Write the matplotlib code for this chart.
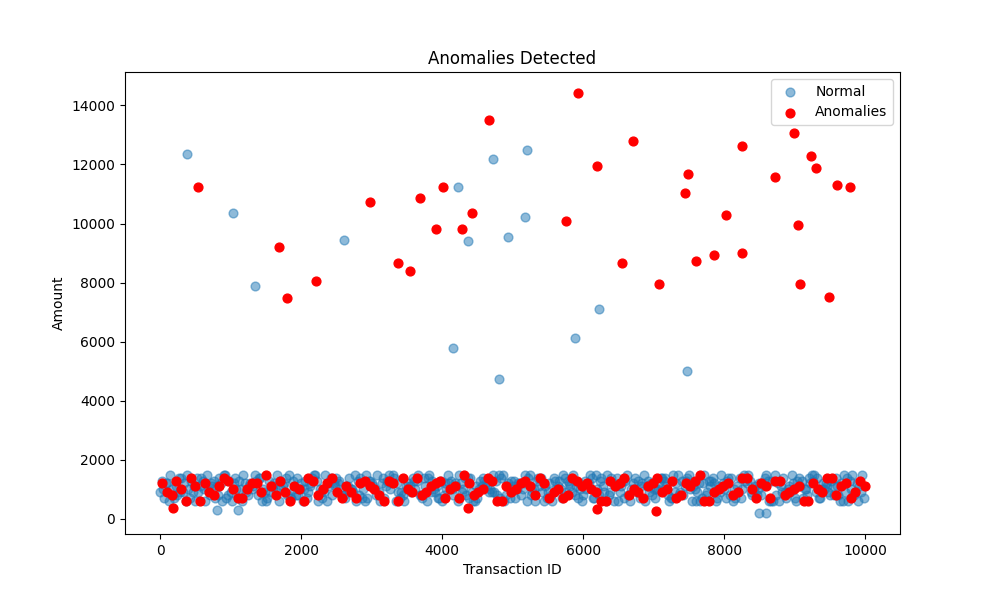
# Transaction anomalies scatter
import matplotlib
matplotlib.use("Agg")
import matplotlib.pyplot as plt
import numpy as np

# normal outliers
normal_out_id = [380, 1030, 1340, 2610, 4160, 4220, 4360, 4720, 4800, 4930, 5180, 5200, 5880, 6220, 7480, 800, 1100, 8500, 8600]
normal_out_amt = [12350, 10350, 7870, 9430, 5800, 11250, 9400, 12180, 4720, 9550, 10230, 12500, 6120, 7120, 5000, 300, 300, 200, 200]

# anomaly outliers
anom_out_id = [530, 1690, 1800, 2210, 2980, 3380, 3540, 3680, 3910, 4010, 4280, 4420, 4660, 5760, 5930, 6200, 6550, 6710,
               7080, 7450, 7490, 7600, 7850, 8020, 8250, 8260, 8720, 8990, 9050, 9080, 9230, 9310, 9490, 9600, 9780,
               180, 6200, 7030, 4360]
anom_out_amt = [11250, 9200, 7470, 8070, 10720, 8680, 8380, 10880, 9800, 11230, 9800, 10370, 13500, 10070, 14420, 11950, 8650, 12800,
                7970, 11020, 11670, 8720, 8920, 10280, 9000, 12620, 11570, 13080, 9950, 7970, 12300, 11870, 7520, 11300, 11230,
                380, 330, 270, 370]

# dense band of normal amounts (hundreds), rows of 100 transactions each
band_rows = [
    "9 12 7 14 10 6 13 8 11 15 9 7 12 10 14 6 11 13 8 10 12 9 15 7 11 14 8 10 13 6 12 9 11 15 7 10 13 8 14 9 "
    "6 12 11 10 14 7 13 9 15 8 11 12 6 10 14 9 13 7 12 11 8 15 10 9 14 6 13 12 7 11 10 14 8 9 13 15 6 12 11 7 "
    "10 14 9 13 8 12 15 6 11 10 7 13 14 9 12 8 11 15 10 6",
    "13 6 11 9 7 14 10 12 8 15 6 13 9 11 14 7 12 10 15 8 6 11 13 9 14 12 7 10 8 15 11 6 13 14 9 12 10 7 15 11 "
    "8 13 6 14 9 10 12 15 7 11 13 8 14 6 9 12 10 15 11 7 13 14 8 6 12 9 15 10 11 13 7 14 6 12 8 10 9 15 13 11 "
    "7 6 14 12 10 8 13 15 9 11 6 7 12 14 10 13 8 9 15 11",
    "10 15 8 12 13 9 6 11 14 7 12 10 8 15 6 13 9 11 7 14 10 12 6 15 8 13 11 9 14 7 10 12 15 6 8 11 13 14 9 7 "
    "12 10 15 8 6 13 11 9 14 12 7 10 15 13 6 8 11 14 9 12 10 7 13 15 6 11 8 14 12 9 10 13 7 15 11 6 12 8 14 9 "
    "13 10 7 15 11 12 6 8 14 9 13 10 15 7 12 11 6 14 8 9",
    "7 10 14 6 9 11 15 13 12 8 14 6 11 13 10 9 15 12 7 8 13 14 10 6 12 9 11 15 7 13 8 14 10 12 6 9 15 11 13 7 "
    "10 8 12 14 6 11 9 13 15 7 10 12 8 14 11 6 13 9 15 10 12 7 14 8 11 13 6 9 15 12 10 14 7 8 13 11 6 9 12 15 "
    "14 7 10 13 8 11 6 12 9 15 14 10 13 7 11 8 12 6 9 15",
    "12 8 9 15 11 14 10 7 6 13 10 15 12 8 9 11 6 14 13 10 7 15 9 12 11 8 14 6 10 13 15 7 12 9 11 14 8 6 10 13 "
    "15 12 9 7 11 14 10 8 6 13 12 15 9 11 7 14 10 13 8 6 12 15 11 9 14 7 10 13 6 8 12 11 15 9 14 10 7 13 6 12 "
    "8 11 15 9 10 14 13 6 7 12 11 8 15 10 9 14 6 13 12 7",
]
band_offsets = [0, 20, 40, 60, 80]

# anomalies inside the band (hundreds), rows of 75 transactions each
anom_band_rows = [
    "12 8 10 14 6 9 11 13 7 10 12 15 8 9 11 6 13 10 14 7 9 12 11 8 13 6 10 14 9 12 7 11 15 8 10 13 6 9 12 11 "
    "14 7 10 8 13 12 9 6 11 14 10 7 12 9 13 8 11 15 6 10 12 9 14 7 11 13 8 10 6 12 9 14 11 7 13",
    "9 13 6 11 12 8 14 10 7 12 9 11 13 6 10 14 8 12 9 11 7 13 10 6 12 14 9 8 11 13 10 7 12 9 14 6 11 10 13 8 "
    "12 9 7 14 11 10 6 13 12 8 9 11 14 10 7 12 13 6 9 11 8 14 10 12 7 13 9 11 6 10 14 8 12 9 11",
]
anom_band_offsets = [30, 95]

normal_id = list(normal_out_id)
normal_amt = list(normal_out_amt)
for row, off in zip(band_rows, band_offsets):
    vals = [int(v) * 100 for v in row.split()]
    normal_id += list(np.arange(len(vals)) * 100 + off)
    normal_amt += vals

anom_id = list(anom_out_id)
anom_amt = list(anom_out_amt)
for row, off in zip(anom_band_rows, anom_band_offsets):
    vals = [int(v) * 100 for v in row.split()]
    anom_id += list(np.arange(len(vals)) * 9900 / (len(vals) - 1) + off)
    anom_amt += vals

fig, ax = plt.subplots(figsize=(10, 6), dpi=100)
ax.scatter(normal_id, normal_amt, c="C0", alpha=0.5, s=40, label="Normal")
ax.scatter(anom_id, anom_amt, c="red", s=40, label="Anomalies")
ax.set_title("Anomalies Detected")
ax.set_xlabel("Transaction ID")
ax.set_ylabel("Amount")
ax.legend(loc="upper right")
fig.savefig("out.png")
